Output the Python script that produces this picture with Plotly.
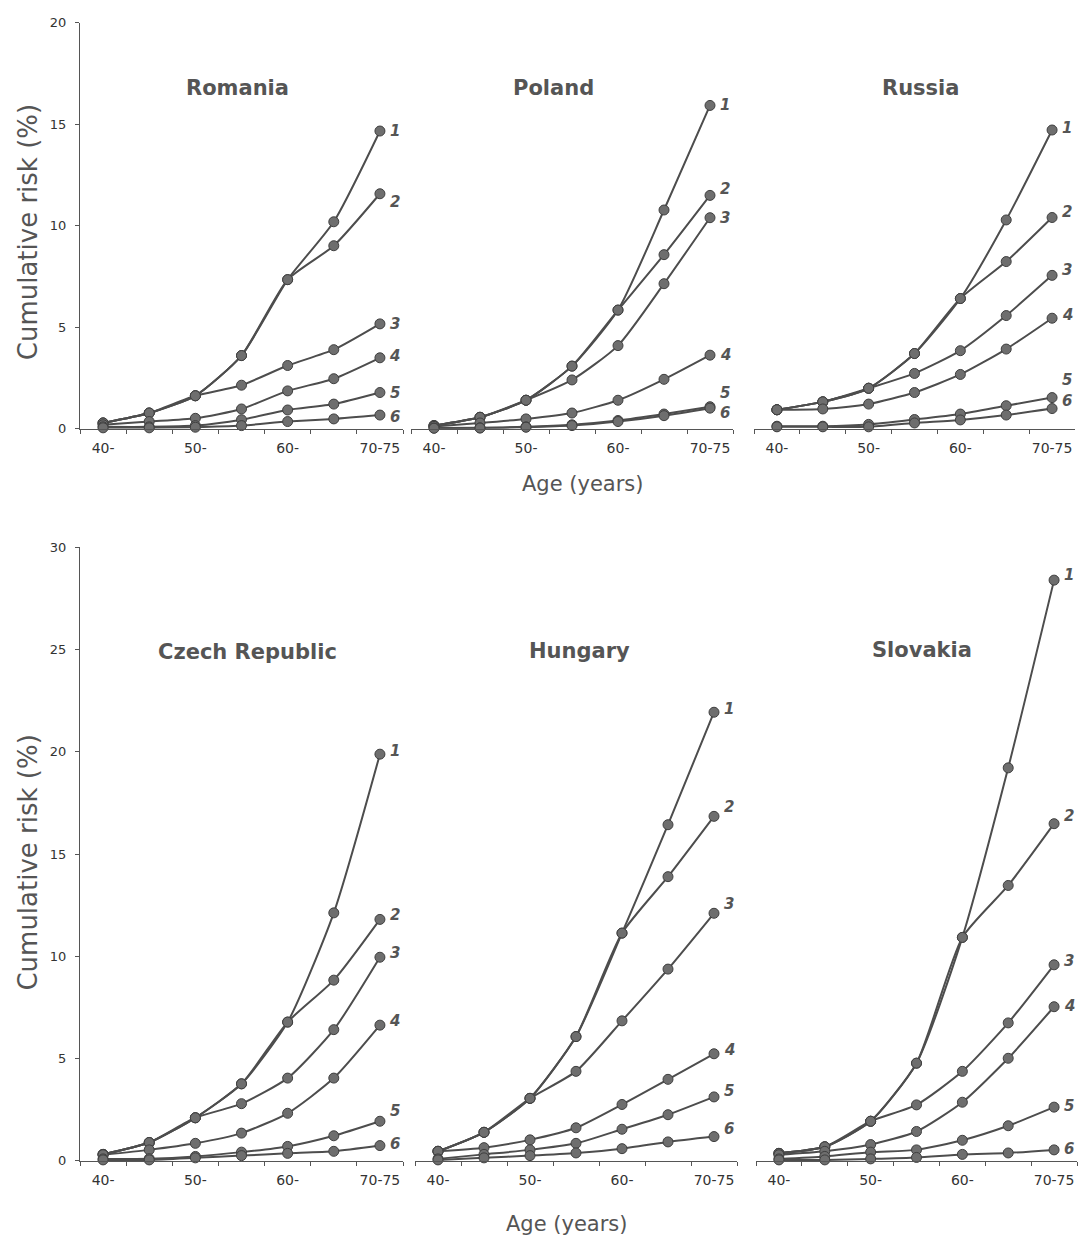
import plotly.graph_objects as go

# ---- data -----------------------------------------------------------------
age_groups = ["40-", "45-", "50-", "55-", "60-", "65-", "70-75"]
age_tick_text = ["40-", "", "50-", "", "60-", "", "70-75"]
series_names = ["1", "2", "3", "4", "5", "6"]

romania = [
    [0.29, 0.78, 1.63, 3.61, 7.35, 10.20, 14.67],
    [0.29, 0.78, 1.63, 3.61, 7.35, 9.02, 11.58],
    [0.29, 0.78, 1.63, 2.15, 3.12, 3.90, 5.17],
    [0.20, 0.36, 0.52, 0.98, 1.87, 2.47, 3.50],
    [0.10, 0.10, 0.16, 0.45, 0.93, 1.22, 1.79],
    [0.05, 0.05, 0.08, 0.16, 0.36, 0.49, 0.68],
]
poland = [
    [0.16, 0.57, 1.41, 3.09, 5.85, 10.78, 15.93],
    [0.16, 0.57, 1.41, 3.09, 5.85, 8.58, 11.50],
    [0.16, 0.57, 1.41, 2.41, 4.10, 7.15, 10.40],
    [0.12, 0.29, 0.49, 0.78, 1.41, 2.44, 3.63],
    [0.04, 0.05, 0.10, 0.20, 0.41, 0.73, 1.09],
    [0.03, 0.04, 0.08, 0.16, 0.36, 0.65, 1.02],
]
russia = [
    [0.94, 1.33, 2.00, 3.71, 6.42, 10.29, 14.72],
    [0.94, 1.33, 2.00, 3.71, 6.42, 8.24, 10.41],
    [0.94, 1.33, 2.00, 2.73, 3.85, 5.58, 7.56],
    [0.94, 0.98, 1.22, 1.79, 2.68, 3.93, 5.45],
    [0.13, 0.13, 0.22, 0.46, 0.73, 1.14, 1.54],
    [0.10, 0.10, 0.10, 0.29, 0.44, 0.68, 1.00],
]
czech = [
    [0.32, 0.90, 2.11, 3.77, 6.79, 12.13, 19.89],
    [0.32, 0.90, 2.11, 3.77, 6.79, 8.84, 11.81],
    [0.32, 0.90, 2.11, 2.80, 4.05, 6.42, 9.96],
    [0.30, 0.54, 0.86, 1.36, 2.33, 4.05, 6.64],
    [0.10, 0.11, 0.22, 0.43, 0.71, 1.23, 1.94],
    [0.05, 0.05, 0.15, 0.26, 0.37, 0.47, 0.75],
]
hungary = [
    [0.47, 1.40, 3.06, 6.08, 11.14, 16.44, 21.94],
    [0.47, 1.40, 3.06, 6.08, 11.14, 13.90, 16.85],
    [0.47, 1.40, 3.06, 4.38, 6.85, 9.38, 12.11],
    [0.47, 0.65, 1.03, 1.62, 2.76, 3.99, 5.24],
    [0.10, 0.32, 0.54, 0.86, 1.55, 2.26, 3.13],
    [0.05, 0.15, 0.26, 0.39, 0.60, 0.93, 1.19],
]
slovakia = [
    [0.37, 0.69, 1.94, 4.78, 10.93, 19.22, 28.40],
    [0.37, 0.69, 1.94, 4.78, 10.93, 13.47, 16.49],
    [0.37, 0.69, 1.94, 2.74, 4.38, 6.75, 9.59],
    [0.30, 0.47, 0.80, 1.44, 2.87, 5.02, 7.54],
    [0.10, 0.22, 0.43, 0.54, 1.01, 1.72, 2.63],
    [0.05, 0.05, 0.10, 0.17, 0.32, 0.39, 0.54],
]

# ---- layout constants (pixels on a 1080 x 1245 page) ----------------------
W, H = 1080, 1245
FONT = "DejaVu Sans, Arial, sans-serif"
INK = "#555555"


def px_x(p):
    return p / W


def px_y(p):
    return 1 - p / H


# (title, data, x-domain px, row, title position px, end-label y shifts)
panels = [
    ("Romania", romania, (80, 403), 0, (237, 82), [0, -8, 0, 2, 0, -2]),
    ("Poland", poland, (411, 733), 0, (553, 82), [0, 6, 0, 0, 14, -5]),
    ("Russia", russia, (754, 1075), 0, (921, 82), [2, 6, 5, 3, 18, 8]),
    ("Czech Republic", czech, (80, 403), 1, (247, 653), [3, 4, 4, 4, 10, 2]),
    ("Hungary", hungary, (415, 737), 1, (579, 652), [3, 9, 9, 4, 6, 8]),
    ("Slovakia", slovakia, (756, 1077), 1, (922, 651), [5, 8, 4, 1, 1, 1]),
]

rows = [
    dict(y_px=(427, 16), yrange=[0, 20], ytitle_y=228, xtitle=(582, 483)),
    dict(y_px=(1168, 547), yrange=[0, 30], ytitle_y=866, xtitle=(566, 1232)),
]

fig = go.Figure()
annotations = []

for i, (title, data, xdom, row, tpos, shifts) in enumerate(panels):
    n = "" if i == 0 else str(i + 1)
    xref, yref = "x" + n, "y" + n
    r = rows[row]
    first_in_row = i % 3 == 0

    for name, values in zip(series_names, data):
        fig.add_trace(go.Scatter(
            x=age_groups, y=values, xaxis=xref, yaxis=yref,
            mode="lines+markers", name=name, showlegend=False,
            line=dict(color="#4d4d4d", width=2, shape="spline", smoothing=0.6),
            marker=dict(size=10, color="#6e6e6e", line=dict(color="#3f3f3f", width=1)),
            cliponaxis=False,
        ))
        annotations.append(dict(
            x=age_groups[-1], y=values[-1], xref=xref, yref=yref,
            text="<b><i>%s</i></b>" % name, showarrow=False,
            xshift=15, yshift=shifts[int(name) - 1],
            font=dict(family=FONT, size=15, color=INK),
        ))

    fig.layout["xaxis" + n] = dict(
        domain=[px_x(xdom[0]), px_x(xdom[1])], anchor=yref,
        type="category", categoryorder="array", categoryarray=age_groups,
        range=[-0.5, 6.5], tickmode="array", tickvals=age_groups,
        ticktext=age_tick_text, tickson="boundaries", tickangle=0,
        ticks="outside", ticklen=4, tickcolor="#555", ticklabelstandoff=6,
        showline=True, linecolor="#555", linewidth=1,
        showgrid=False, zeroline=False,
        tickfont=dict(family=FONT, size=14, color="#333"),
    )
    fig.layout["yaxis" + n] = dict(
        domain=[px_y(r["y_px"][0]), px_y(r["y_px"][1])], anchor=xref,
        range=r["yrange"], tickmode="linear", tick0=0, dtick=5,
        ticks="outside", ticklen=4, tickcolor="#555", ticklabelstandoff=6,
        showline=True, linecolor="#555", linewidth=1,
        showgrid=False, zeroline=False, visible=first_in_row,
        tickfont=dict(family=FONT, size=13, color="#333"),
    )

    annotations.append(dict(
        x=px_x(tpos[0]), y=px_y(tpos[1]), xref="paper", yref="paper",
        text="<b>%s</b>" % title, showarrow=False,
        xanchor="center", yanchor="middle",
        font=dict(family=FONT, size=21, color=INK),
    ))

for r in rows:
    annotations.append(dict(
        x=px_x(28), y=px_y(r["ytitle_y"]), xref="paper", yref="paper",
        text="Cumulative risk (%)", textangle=-90, showarrow=False,
        xanchor="center", yanchor="middle",
        font=dict(family=FONT, size=26, color=INK),
    ))
    annotations.append(dict(
        x=px_x(r["xtitle"][0]), y=px_y(r["xtitle"][1]), xref="paper", yref="paper",
        text="Age (years)", showarrow=False,
        xanchor="center", yanchor="middle",
        font=dict(family=FONT, size=21, color=INK),
    ))

fig.update_layout(
    width=W, height=H,
    margin=dict(l=0, r=0, t=0, b=0),
    paper_bgcolor="white", plot_bgcolor="white",
    annotations=annotations,
    font=dict(family=FONT),
)

fig.write_html("out.html")
